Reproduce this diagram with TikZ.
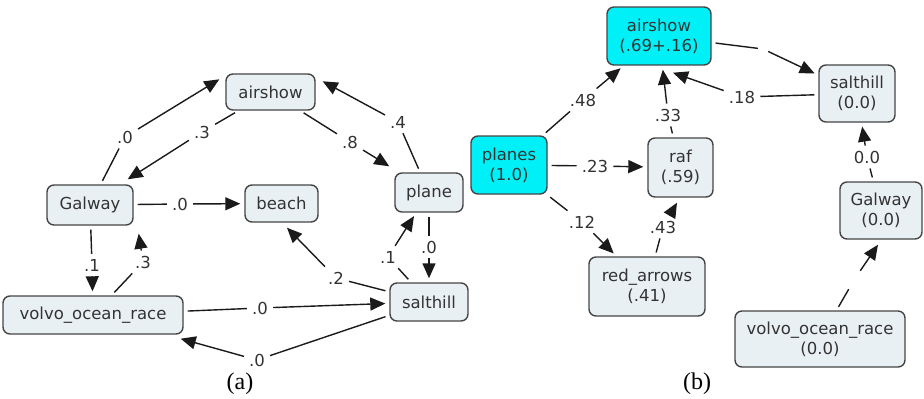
\documentclass[tikz,border=0pt]{standalone}
\usepackage{fontspec}
\setmainfont{Liberation Serif}
\newfontfamily\nodefont{DejaVu Sans}
\usetikzlibrary{arrows.meta,calc}
\definecolor{boxfill}{HTML}{E9F0F4}
\definecolor{boxdraw}{HTML}{454545}
\definecolor{hicyan}{HTML}{00F0F8}
\definecolor{edgecol}{HTML}{1A1A1A}
\definecolor{txtcol}{HTML}{333333}
\begin{document}
\begin{tikzpicture}[x=1pt,y=-1pt,
  cbox/.style={draw=boxdraw, fill=boxfill, line width=1.4pt, rounded corners=7pt, text=txtcol,
    font=\nodefont\fontsize{16.5}{20}\selectfont, align=center, inner sep=0pt},
  hbox/.style={cbox, fill=hicyan},
  lbl/.style={font=\nodefont\fontsize{16.5}{20}\selectfont, text=txtcol, inner sep=5pt},
  blank/.style={inner sep=0pt, minimum size=#1},
  seg/.style={draw=edgecol, line width=1.4pt, shorten <=4pt},
  tip/.style={draw=edgecol, line width=1.4pt, -{Triangle[length=15pt,width=13pt]}, shorten >=4pt},
  tipx/.style={draw=edgecol, line width=1.4pt, -{Triangle[length=15pt,width=13pt]}},
  capt/.style={font=\fontsize{24}{28}\selectfont, inner sep=0pt}
]
\useasboundingbox (0,0) rectangle (924,399);

% ---------- (a) ----------
\node[cbox, minimum width=89, minimum height=36] (airA) at (270.5,92) {airshow};
\node[cbox, minimum width=86, minimum height=40] (galA) at (90,205) {Galway};
\node[cbox, minimum width=73, minimum height=37] (beachA) at (281.5,203.5) {beach};
\node[cbox, minimum width=68, minimum height=39] (planeA) at (429,192.5) {plane};
\node[cbox, minimum width=180, minimum height=38] (volvoA) at (93,315) {volvo\_ocean\_race};
\node[cbox, minimum width=78, minimum height=38] (saltA) at (429,302) {salthill};

\node[lbl] (l1) at (125,137) {.0};
\node[lbl] (l2) at (202,132) {.3};
\node[lbl] (l3) at (350,142) {.8};
\node[lbl] (l4) at (398,122) {.4};
\node[lbl] (l5) at (180,204) {.0};
\node[lbl] (l6) at (92,265) {.1};
\node[lbl] (l7) at (143,262) {.3};
\node[lbl] (l8) at (260,308) {.0};
\node[lbl] (l9) at (257,360) {.0};
\node[lbl] (l10) at (336,278) {.2};
\node[lbl] (l11) at (388,257) {.1};
\node[lbl] (l12) at (429,247) {.0};

\draw[seg] (galA) -- (l1);   \draw[tipx] (l1) -- ($(airA.north west)+(-6,6)$);
\draw[seg] (airA) -- (l2);   \draw[tipx] (l2) -- ($(galA.north east)+(-6,-5)$);
\draw[seg] (airA) -- (l3);   \draw[tipx] (l3) -- ($(planeA.north west)+(-5,-6)$);
\draw[seg] (planeA) -- (l4); \draw[tipx] (l4) -- ($(airA.north east)+(7,8)$);
\draw[seg] (galA) -- (l5);   \draw[tip] (l5) -- (beachA);
\draw[seg] (galA) -- (l6);   \draw[tip] (l6) -- (volvoA);
\draw[seg] (volvoA) -- (l7); \draw[tipx] (l7) -- ($(galA.south east)+(5,8)$);
\draw[seg] (volvoA) -- (l8); \draw[tip] (l8) -- (saltA);
\draw[seg] (saltA) -- (l9);  \draw[tipx] (l9) -- ($(volvoA.south east)+(-3,4)$);
\draw[seg] (saltA) -- (l10); \draw[tipx] (l10) -- ($(beachA.south)+(5.5,5)$);
\draw[seg] (saltA) -- (l11); \draw[tip] (l11) -- (planeA);
\draw[seg] (planeA) -- (l12); \draw[tip] (l12) -- (saltA);

\node[capt] (capA) at (240,384) {(a)};

% ---------- (b) ----------
\node[hbox, minimum width=104, minimum height=58] (airB) at (659,36) {airshow\\(.69+.16)};
\node[hbox, minimum width=76, minimum height=58] (planesB) at (509,165) {planes\\(1.0)};
\node[cbox, minimum width=65, minimum height=59] (rafB) at (680.5,167.5) {raf\\(.59)};
\node[cbox, minimum width=116, minimum height=59] (redB) at (647,286.5) {red\_arrows\\(.41)};
\node[cbox, minimum width=76, minimum height=57] (saltB) at (857,93.5) {salthill\\(0.0)};
\node[cbox, minimum width=82, minimum height=57] (galB) at (881,210.5) {Galway\\(0.0)};
\node[cbox, minimum width=170, minimum height=56] (volvoB) at (820,339) {volvo\_ocean\_race\\(0.0)};

\node[lbl] (m1) at (583,100) {.48};
\node[lbl] (m2) at (595,166) {.23};
\node[lbl] (m3) at (582,222) {.12};
\node[lbl] (m4) at (668,115) {.33};
\node[lbl] (m5) at (663,227) {.43};
\node[lbl] (m6) at (742,97) {.18};
\node[blank=10] (m7) at (763,49) {};
\node[lbl] (m8) at (867,157) {0.0};
\node[blank=18] (m9) at (854,280) {};

\draw[seg] (planesB) -- (m1); \draw[tip] (m1) -- (airB);
\draw[seg] (planesB) -- (m2); \draw[tip] (m2) -- (rafB);
\draw[seg] (planesB) -- (m3); \draw[tip] (m3) -- (redB);
\draw[seg] (rafB) -- (m4);    \draw[tip] (m4) -- (airB);
\draw[seg] (redB) -- (m5);    \draw[tipx] (m5) -- ($(rafB.south)+(-3.5,5)$);
\draw[seg] (saltB) -- (m6);   \draw[tipx] (m6) -- ($(airB.south)+(14,7)$);
\draw[seg] (airB) -- (m7);    \draw[tip] (m7) -- (saltB);
\draw[seg] (galB) -- (m8);    \draw[tip] (m8) -- (saltB);
\draw[seg] (volvoB) -- (m9);  \draw[tipx] (m9) -- ($(galB.south)+(-3,5)$);

\node[capt] (capB) at (697,384) {(b)};
\end{tikzpicture}
\end{document}
